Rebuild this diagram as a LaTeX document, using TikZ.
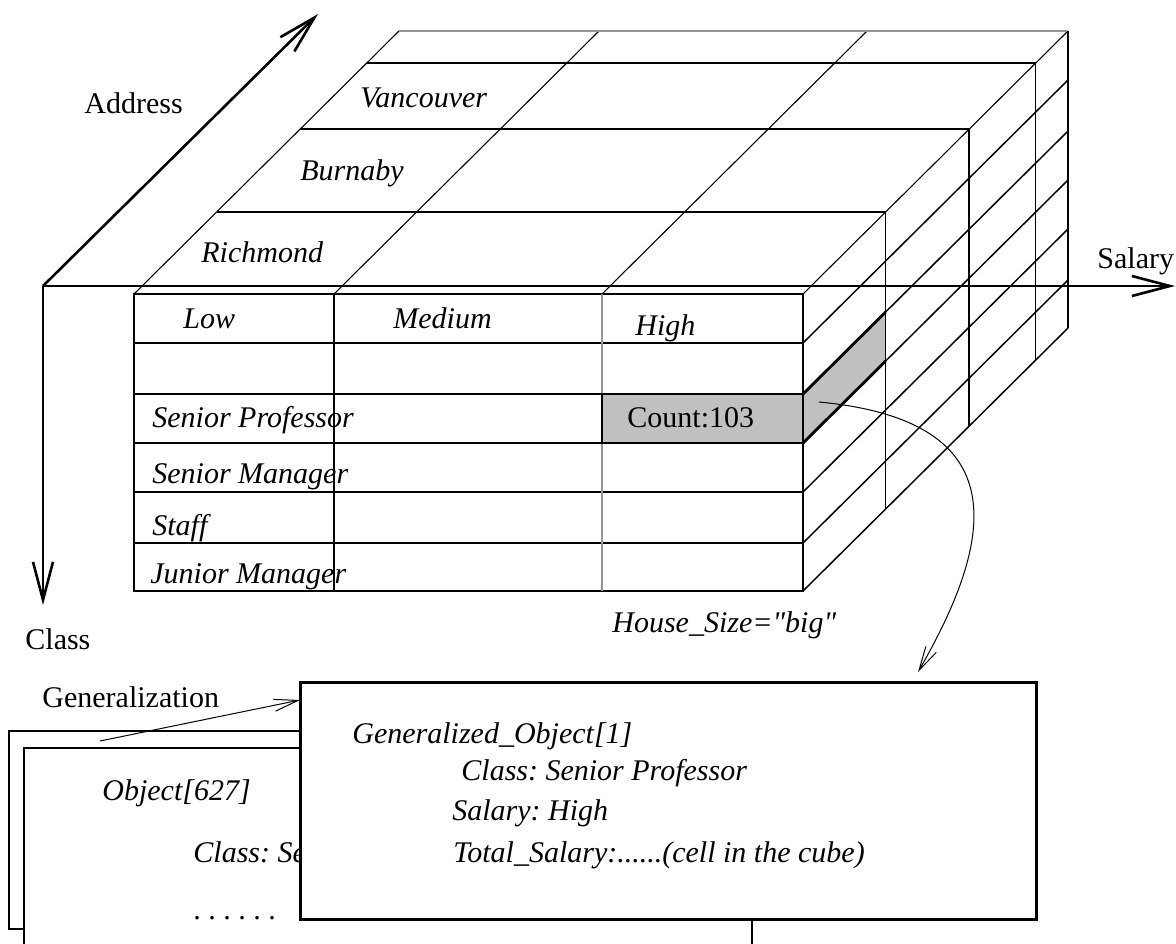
\documentclass[tikz,border=0pt]{standalone}
\usepackage{fontspec}
\setmainfont{Liberation Serif}
\usepackage{tikz}
\usepackage{xcolor}
\usetikzlibrary{arrows.meta}
\definecolor{CellGray}{RGB}{192,192,192}
\definecolor{EdgeGray}{RGB}{150,150,150}

\begin{document}
\begin{tikzpicture}[
    x=0.5pt, y=-0.5pt,
    cubeline/.style={line width=0.75pt},
    topline/.style={line width=0.55pt},
    hiline/.style={line width=1.4pt},
    axisline/.style={line width=1.3pt, -{Straight Barb[length=19pt,width=10pt]}},
    linkarrow/.style={line width=0.5pt, -{Straight Barb[length=12pt,width=6pt]}},
    txt/.style={font=\fontsize{15}{18}\selectfont\frenchspacing, inner sep=0pt, anchor=base west},
    ittxt/.style={txt, font=\fontsize{15}{18}\selectfont\frenchspacing\itshape},
    objbox/.style={draw, fill=white, line width=0.75pt, outer sep=0pt, inner sep=0pt, anchor=north west}
  ]
  \useasboundingbox (0,0) rectangle (1176,943);
  \clip (0,0) rectangle (1176,943);

  % shaded cell (front and side)
  \fill[CellGray] (602,394) rectangle (803,443);
  \fill[CellGray] (803,394) -- ++(82.7,-82) -- ++(0,49) -- (803,443) -- cycle;

  % front face
  \draw[cubeline] (134,294) rectangle (803,591);
  \foreach \y in {343,394,443,492,543}
    \draw[cubeline] (134,\y) -- (803,\y);
  \draw[cubeline] (334,294) -- (334,591);
  \draw[cubeline, EdgeGray] (602,294) -- (602,591);

  % top face
  \foreach \x in {134,334,602,803}
    \draw[topline] (\x,294) -- ++(265,-263);
  \foreach \t in {0.312,0.627,0.878}
    \draw[cubeline] ({134+265*\t},{294-263*\t}) -- ++(669,0);
  \draw[cubeline, EdgeGray] (399,31) -- (1068,31);

  % right face
  \foreach \t in {0.312,0.627,0.878,1}
    \draw[cubeline] ({803+265*\t},{294-263*\t}) -- ++(0,297);
  \foreach \y in {343,394,443,492,543,591}
    \draw[cubeline] (803,\y) -- ++(265,-263);

  % outline of the selected cell
  \draw[hiline] (602,394) rectangle (803,443);
  \draw[hiline] (803,394) -- ++(82.7,-82);
  \draw[hiline] (803,443) -- ++(82.7,-82);

  % axes
  \coordinate (origin) at (43,286);
  \coordinate (addrtip) at (318,14);
  \coordinate (saltip) at (1175,286);
  \coordinate (classtip) at (43,605);
  \draw[axisline] (origin) -- (addrtip);
  \draw[axisline] (origin) -- (saltip);
  \draw[axisline] (origin) -- (classtip);

  \node[txt] (addrlab) at (84,113) {Address};
  \node[txt] (sallab) at (1097,268) {Salary};
  \node[txt] (classlab) at (25,649) {Class};

  % cube labels
  \node[ittxt] (vanc) at (360,107) {Vancouver};
  \node[ittxt] (burn) at (300,180) {Burnaby};
  \node[ittxt] (rich) at (201,262) {Richmond};
  \node[ittxt] (low) at (183,328) {Low};
  \node[ittxt] (med) at (393,328) {Medium};
  \node[ittxt] (high) at (635,335) {High};
  \node[ittxt] (sprof) at (152,427) {Senior Professor};
  \node[ittxt] (smgr) at (152,483) {Senior Manager};
  \node[ittxt] (staff) at (152,535) {Staff};
  \node[ittxt] (jmgr) at (150,583) {Junior Manager};
  \node[txt] (count) at (627,427) {Count:103};
  \node[ittxt] (house) at (612,632) {House\_Size=\textquotedbl big\textquotedbl};

  % object records
  \node[objbox, minimum width=364pt, minimum height=99pt] (objback) at (9,731) {};
  \node[objbox, minimum width=364pt, minimum height=116pt] (objfront) at (24,748) {};
  \node[ittxt] (objname) at (102,800) {Object[627]};
  \node[ittxt] (objclass) at (193,862) {Class: Senior Professor};
  \node[txt] (objdots) at (193,919) {. . . . . .};

  \node[
    objbox,
    line width=1.5pt,
    minimum width=368pt,
    minimum height=118.5pt
  ] (genbox) at (300,682) {};
  \node[ittxt] (genname) at (352,743) {Generalized\_Object[1]};
  \node[ittxt] (genclass) at (461,780) {Class: Senior Professor};
  \node[ittxt] (gensal) at (452,820) {Salary: High};
  \node[ittxt] (gentotal) at (453,862) {Total\_Salary:......(cell in the cube)};

  \node[txt] (genlab) at (42,707) {Generalization};

  % links
  \coordinate (genfrom) at (100,741);
  \draw[linkarrow] (genfrom) -- ([yshift=-9pt]genbox.north west);
  \coordinate (cellmark) at (819,402);
  \coordinate (gentip) at (918,672);
  \draw[linkarrow] (cellmark) .. controls (1010,420) and (1000,530) .. (gentip);
\end{tikzpicture}
\end{document}
